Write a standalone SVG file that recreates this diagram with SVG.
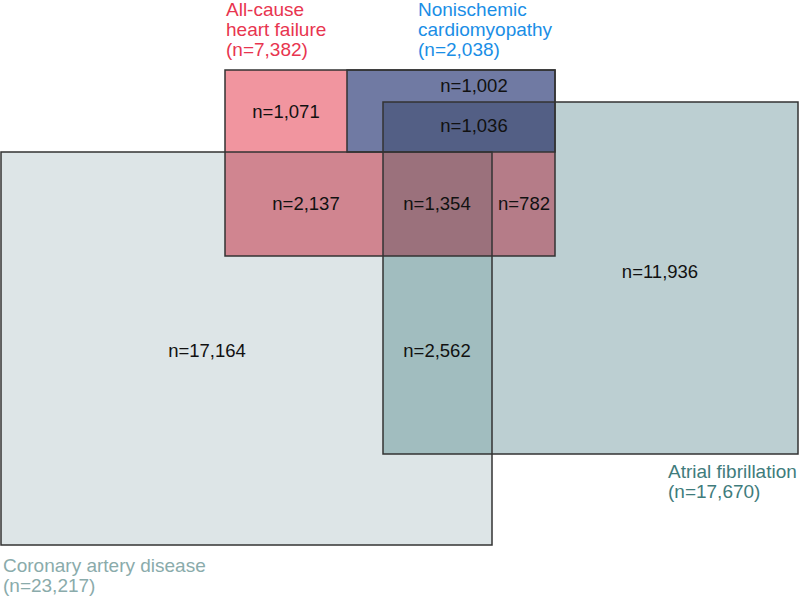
<svg xmlns="http://www.w3.org/2000/svg" width="800" height="598" viewBox="0 0 800 598">
<style>
.o{fill:none;stroke:#333;stroke-width:1.5}
.n{font-family:"Liberation Sans",Arial,sans-serif;font-size:18.5px;fill:#111;text-anchor:middle}
.l{font-family:"Liberation Sans",Arial,sans-serif;font-size:19px}
</style>
<rect width="800" height="598" fill="#fff"/>
<g id="cad">
<rect x="1" y="152" width="491" height="393" fill="#dde5e7"/>
</g>
<g id="af">
<rect x="383" y="102" width="415" height="352" fill="#bccfd2"/>
<rect x="383" y="152" width="109" height="302" fill="#a1bdbf"/>
</g>
<g id="hf">
<rect x="225" y="70" width="330" height="186" fill="#f1959f"/>
<rect x="225" y="152" width="267" height="104" fill="#d08590"/>
<rect x="383" y="102" width="172" height="154" fill="#b57c88"/>
<rect x="383" y="152" width="109" height="104" fill="#9b717c"/>
</g>
<g id="nicm">
<rect x="347" y="70" width="208" height="82" fill="#707aa3"/>
<rect x="383" y="102" width="172" height="50" fill="#535f85"/>
</g>
<g id="outlines">
<rect class="o" x="1" y="152" width="491" height="393"/>
<rect class="o" x="383" y="102" width="415" height="352"/>
<rect class="o" x="225" y="70" width="330" height="186"/>
<rect class="o" x="347" y="70" width="208" height="82"/>
</g>
<g id="counts">
<text class="n" x="286" y="118">n=1,071</text>
<text class="n" x="474" y="92">n=1,002</text>
<text class="n" x="474" y="132">n=1,036</text>
<text class="n" x="306" y="210">n=2,137</text>
<text class="n" x="437" y="210">n=1,354</text>
<text class="n" x="524" y="210">n=782</text>
<text class="n" x="660" y="278">n=11,936</text>
<text class="n" x="207" y="357">n=17,164</text>
<text class="n" x="437" y="357">n=2,562</text>
</g>
<g id="labels">
<text class="l" fill="#e8354f" x="226" y="15.5">All-cause</text>
<text class="l" fill="#e8354f" x="226" y="35.5">heart failure</text>
<text class="l" fill="#e8354f" x="226" y="55.5">(n=7,382)</text>
<text class="l" fill="#1a8ee6" x="418" y="15.5">Nonischemic</text>
<text class="l" fill="#1a8ee6" x="418" y="35.5">cardiomyopathy</text>
<text class="l" fill="#1a8ee6" x="418" y="55.5">(n=2,038)</text>
<text class="l" fill="#3f7c7c" x="668" y="478">Atrial fibrillation</text>
<text class="l" fill="#3f7c7c" x="668" y="498">(n=17,670)</text>
<text class="l" fill="#8aabab" x="3" y="572">Coronary artery disease</text>
<text class="l" fill="#8aabab" x="3" y="592">(n=23,217)</text>
</g>
</svg>
